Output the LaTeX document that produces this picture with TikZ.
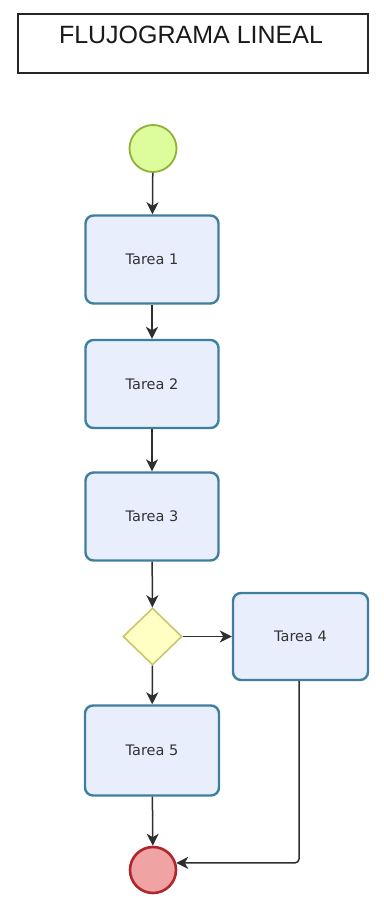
\documentclass[tikz,border=0pt]{standalone}
\usepackage{fontspec}
\setmainfont{Liberation Sans}
\newfontfamily\taskfont{DejaVu Sans}
\usetikzlibrary{shapes.geometric,arrows.meta}

\definecolor{taskfill}{HTML}{E9EEFC}
\definecolor{taskline}{HTML}{3F7E9C}
\definecolor{startfill}{HTML}{DDFC9C}
\definecolor{startline}{HTML}{8FB236}
\definecolor{gatefill}{HTML}{FFFFC4}
\definecolor{gateline}{HTML}{C9C66E}
\definecolor{endfill}{HTML}{F0A3A3}
\definecolor{endline}{HTML}{B0262B}
\definecolor{flowline}{HTML}{2E2E2E}

\tikzset{
  titlebox/.style={draw=black!85, line width=1.5pt, minimum width=350pt, minimum height=59pt, inner sep=0pt},
  titletext/.style={font=\fontsize{25}{30}\selectfont, inner sep=0pt, text=black!90},
  taskbox/.style={draw=taskline, fill=taskfill, line width=2.4pt, rounded corners=8pt,
    minimum width=133pt, minimum height=88pt, inner sep=0pt,
    font=\taskfont\fontsize{14.5}{17}\selectfont, text=black!80},
  startev/.style={circle, draw=startline, fill=startfill, line width=1.8pt, minimum size=47pt, inner sep=0pt},
  endev/.style={circle, draw=endline, fill=endfill, line width=2.6pt, minimum size=46pt, inner sep=0pt},
  gateway/.style={diamond, draw=gateline, fill=gatefill, line width=1.6pt, minimum width=59pt, minimum height=57pt, inner sep=0pt},
  flow/.style={draw=flowline, line width=1.5pt, -{Stealth[length=12pt, width=12pt, inset=3.5pt]}}
}

\begin{document}
\begin{tikzpicture}[x=1pt, y=-1pt]
  \useasboundingbox (0,0) rectangle (383,897);

  % heading
  \node[titlebox] (titlebox) at (193,43.5) {};
  \node[titletext] (titletext) at (191,34.5) {FLUJOGRAMA LINEAL};

  % process elements
  \node[startev] (start) at (153,148.5) {};
  \node[taskbox] (t1) at (152,259.5) {Tarea 1};
  \node[taskbox] (t2) at (152,384) {Tarea 2};
  \node[taskbox] (t3) at (152,516.5) {Tarea 3};
  \node[gateway] (gate) at (152.5,636.5) {};
  \node[taskbox, minimum width=135pt, minimum height=87pt] (t4) at (300.5,636.5) {Tarea 4};
  \node[taskbox, minimum width=134pt, minimum height=90pt] (t5) at (152,750.5) {Tarea 5};
  \node[endev] (end) at (153,870) {};

  % sequence flows
  \draw[flow] (start) -- (t1);
  \draw[flow] (t1) -- (t2);
  \draw[flow] (t2) -- (t3);
  \draw[flow] (t3) -- (gate);
  \draw[flow] (gate) -- (t4);
  \draw[flow] (gate) -- (t5);
  \draw[flow] (t5) -- (end);
  \draw[flow, rounded corners=4pt] ([xshift=-1.5pt]t4.south) |- (end.17);
\end{tikzpicture}
\end{document}
